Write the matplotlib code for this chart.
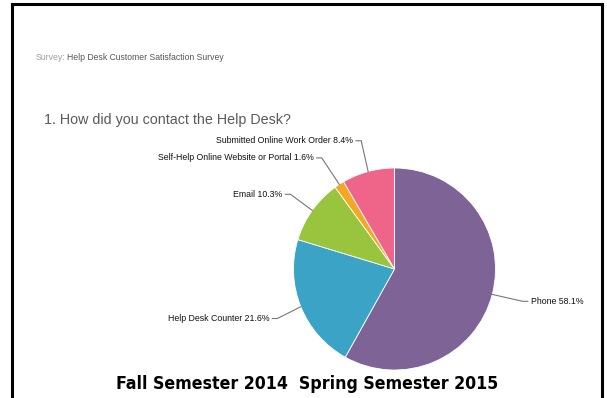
import numpy as np
import matplotlib.pyplot as plt
from matplotlib.lines import Line2D

# Survey answers (share of responses, %)
labels = ["Phone", "Help Desk Counter", "Email",
          "Self-Help Online Website or Portal", "Submitted Online Work Order"]
shares = [58.1, 21.6, 10.3, 1.6, 8.4]
colors = ["#7e6396", "#3aa3c6", "#98c43e", "#f5a623", "#ef6489"]

# where the leader lines bend (pie data units, radius = 1)
elbows = [(1.27, -0.32), (-1.16, -0.49), (-1.03, 0.74), (-0.72, 1.10), (-0.33, 1.27)]

fig = plt.figure(figsize=(6.07, 3.98), dpi=100)
W, H = 607, 398

# page frame
fig.add_artist(Line2D([12 / W, 12 / W], [0, 1 - 4 / H], color="black", lw=2.2))
fig.add_artist(Line2D([602 / W, 602 / W], [0, 1 - 4 / H], color="black", lw=2.2))
fig.add_artist(Line2D([12 / W, 602 / W], [1 - 4 / H, 1 - 4 / H], color="black", lw=2.2))

fig.text(36 / W, 1 - 58 / H, "Survey:", color="#a0a0a0", fontsize=6.3,
         family="Liberation Sans", va="center")
fig.text(67 / W, 1 - 58 / H, "Help Desk Customer Satisfaction Survey", color="#555555",
         fontsize=6.2, family="Liberation Sans", va="center")
fig.text(44 / W, 1 - 120 / H, "1. How did you contact the Help Desk?", color="#5a5a5a",
         fontsize=10.3, family="Liberation Sans", va="center")
fig.text(307.5 / W, 1 - 384 / H, "Fall Semester 2014  Spring Semester 2015", color="black",
         fontsize=12.7, family="DejaVu Sans", weight="bold", stretch="condensed",
         ha="center", va="center")

r = 101
ax = fig.add_axes([(394.5 - r) / W, (398 - 269 - r) / H, 2 * r / W, 2 * r / H])
wedges, _ = ax.pie(shares, colors=colors, startangle=90, counterclock=False,
                   wedgeprops=dict(edgecolor="white", linewidth=0.6))
ax.set_xlim(-1, 1)
ax.set_ylim(-1, 1)
ax.set_aspect("equal")
ax.axis("off")

for w, lab, val, (ex, ey) in zip(wedges, labels, shares, elbows):
    mid = np.deg2rad((w.theta1 + w.theta2) / 2)
    px, py = np.cos(mid), np.sin(mid)
    side = 1 if ex > 0 else -1
    hx = ex + side * 0.05
    ax.plot([px, ex, hx], [py, ey, ey], color="#777777", lw=0.8, clip_on=False)
    ax.text(hx + side * 0.03, ey, f"{lab} {val}%", fontsize=6.3, family="Liberation Sans",
            color="#111111", ha="left" if side > 0 else "right", va="center")

fig.savefig("out.png", dpi=100)
